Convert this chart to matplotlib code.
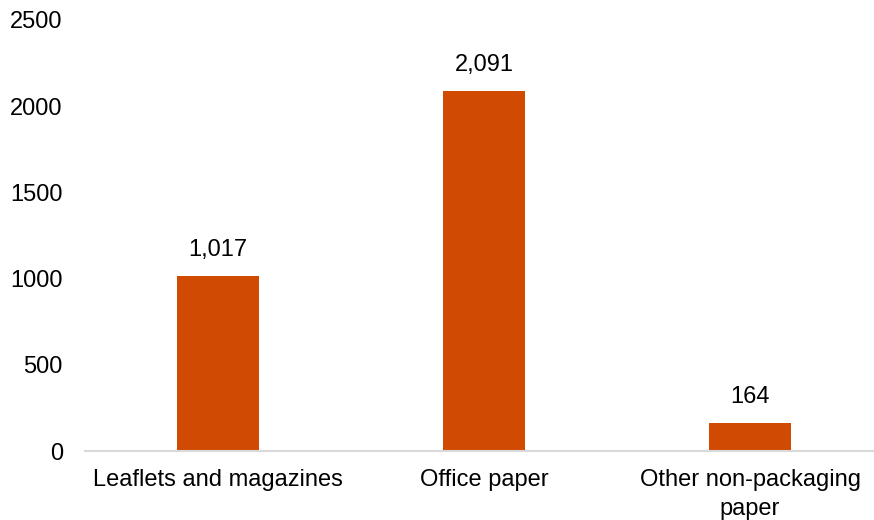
import matplotlib
matplotlib.use("Agg")
from matplotlib import pyplot as plt

categories = ["Leaflets and magazines", "Office paper", "Other non-packaging\npaper"]
values = [1017, 2091, 164]
yticks = [0, 500, 1000, 1500, 2000, 2500]

plt.rcParams['font.family'] = ['Liberation Sans', 'DejaVu Sans']

fig = plt.figure(figsize=(8.74, 5.2), dpi=100)
# axes runs a little past the right edge, like the source layout
ax = fig.add_axes([85 / 874, (520 - 451) / 520, 798 / 874, 431 / 520])

x = range(len(categories))
bars = ax.bar(x, values, width=0.31, color="#D04A02")
for b, v in zip(bars, values):
    ax.text(b.get_x() + b.get_width() / 2, v + 85, f"{v:,}",
            ha="center", va="bottom", fontsize=17)

ax.set_xlim(-0.5, 2.5)
ax.set_ylim(0, 2500)
ax.set_yticks(yticks)
ax.set_xticks(list(x))
ax.set_xticklabels(categories, fontsize=17, linespacing=1.4)
ax.tick_params(axis="y", length=0, labelsize=17, pad=16)
ax.tick_params(axis="x", length=0, pad=13)
for s in ["top", "right", "left"]:
    ax.spines[s].set_visible(False)
ax.spines["bottom"].set_color("#D9D9D9")
ax.spines["bottom"].set_linewidth(1.5)

fig.savefig("out.png", dpi=100)
